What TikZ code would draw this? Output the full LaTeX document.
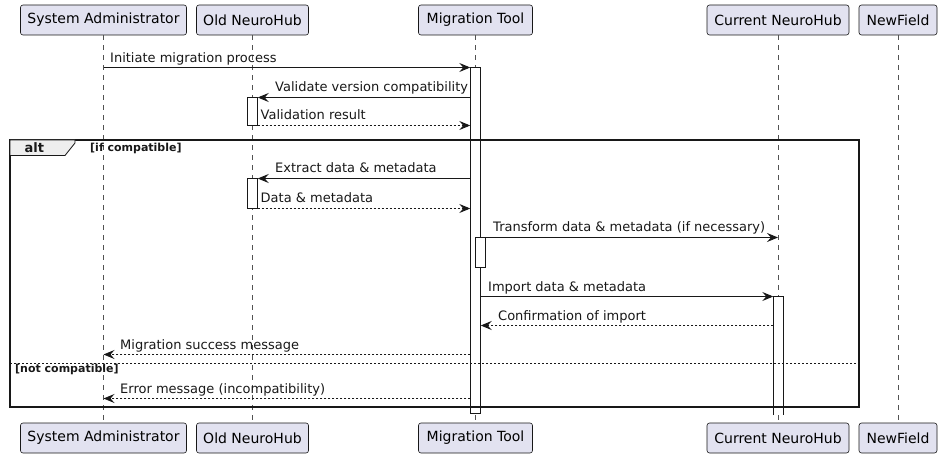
\documentclass[tikz,border=0pt]{standalone}
\usepackage{fontspec}
\setmainfont{DejaVu Sans}
\usetikzlibrary{arrows.meta}
\definecolor{partfill}{HTML}{E2E2F0}
\definecolor{ink}{HTML}{181818}
\definecolor{tabfill}{HTML}{EEEEEE}
\tikzset{
  part/.style={draw=ink, fill=partfill, line width=0.6pt, rounded corners=2.5pt,
    minimum height=30pt, inner sep=0pt, font=\fontsize{14}{16}\selectfont},
  life/.style={draw=ink!75, line width=0.5pt, dash pattern=on 5pt off 5pt},
  actbox/.style={draw=ink, fill=white, line width=0.8pt},
  msg/.style={draw=ink, line width=0.9pt, -{Stealth[length=11pt,width=9pt,inset=4pt]}},
  ret/.style={msg, dash pattern=on 2pt off 2pt},
  lbl/.style={anchor=base west, inner sep=0pt, font=\fontsize{13}{15}\selectfont, text=ink},
  guard/.style={anchor=base west, inner sep=0pt, font=\bfseries\fontsize{11}{13}\selectfont, text=ink},
}
\begin{document}
\begin{tikzpicture}[x=1pt,y=-1pt]
\useasboundingbox (0,0) rectangle (942,457);
% participants (top)
\node[part, minimum width=166pt] (saT) at (103.5,20) {System Administrator};
\node[part, minimum width=112pt] (ohT) at (252.5,20) {Old NeuroHub};
\node[part, minimum width=114pt] (mtT) at (475.5,20) {Migration Tool};
\node[part, minimum width=142pt] (cnT) at (778,20) {Current NeuroHub};
\node[part, minimum width=78pt]  (nfT) at (898,20) {NewField};
% participants (bottom)
\node[part, minimum width=166pt] (saB) at (103.5,438) {System Administrator};
\node[part, minimum width=112pt] (ohB) at (252.5,438) {Old NeuroHub};
\node[part, minimum width=114pt] (mtB) at (475.5,438) {Migration Tool};
\node[part, minimum width=142pt] (cnB) at (778,438) {Current NeuroHub};
\node[part, minimum width=78pt]  (nfB) at (898,438) {NewField};
% lifelines
\draw[life] (saT.south) -- (saB.north);
\draw[life] (ohT.south) -- (ohB.north);
\draw[life] (mtT.south) -- (mtB.north);
\draw[life] (cnT.south) -- (cnB.north);
\draw[life] (nfT.south) -- (nfB.north);
% activations
\draw[actbox] (470.5,67.5) rectangle (480.5,413);
\node[inner sep=0pt, minimum width=10pt, minimum height=345.5pt] (mtAct) at (475.5,240.25) {};
\draw[actbox] (247.5,97.5) rectangle (257.5,125.5);
\node[inner sep=0pt, minimum width=10pt, minimum height=28pt] (ohAct1) at (252.5,111.5) {};
\draw[actbox] (247.5,178.5) rectangle (257.5,208.5);
\node[inner sep=0pt, minimum width=10pt, minimum height=30pt] (ohAct2) at (252.5,193.5) {};
\draw[actbox] (475.5,237.5) rectangle (485.5,267.5);
\node[inner sep=0pt, minimum width=10pt, minimum height=30pt] (mtAct2) at (480.5,252.5) {};
\fill[white] (773.5,296.5) rectangle (783.5,415);
\draw[ink, line width=0.8pt] (773.5,415) -- (773.5,296.5) -- (783.5,296.5) -- (783.5,415);
\node[inner sep=0pt, minimum width=10pt, minimum height=118.5pt] (cnAct) at (778.5,355.75) {};
% alt frame
\draw[ink, line width=1.5pt] (10,140) rectangle (859,407);
\draw[ink, line width=0.8pt, fill=tabfill] (10,140) -- (75,140) -- (75,143) -- (65,155.5) -- (10,155.5) -- cycle;
\node[anchor=base west, inner sep=0pt, font=\bfseries\fontsize{13}{15}\selectfont, text=ink] (altlbl) at (24.5,152.5) {alt};
\node[guard] (g1) at (90,152) {[if compatible]};
\draw[ink, line width=0.8pt, dash pattern=on 2pt off 2pt] (10,363.5) -- (859,363.5);
\node[guard] (g2) at (15,372.5) {[not compatible]};
% messages
\draw[msg] (saT.south |- 0,67.5) -- (mtAct.west |- 0,67.5);
\node[lbl] at (110,62.5) {Initiate migration process};
\draw[msg] (mtAct.west |- 0,97.5) -- (ohAct1.east |- 0,97.5);
\node[lbl] at (275,91.5) {Validate version compatibility};
\draw[ret] (ohAct1.east |- 0,125.5) -- (mtAct.west |- 0,125.5);
\node[lbl] at (260.5,120) {Validation result};
\draw[msg] (mtAct.west |- 0,178.5) -- (ohAct2.east |- 0,178.5);
\node[lbl] at (275,173) {Extract data \& metadata};
\draw[ret] (ohAct2.east |- 0,208.5) -- (mtAct.west |- 0,208.5);
\node[lbl] at (260.5,203) {Data \& metadata};
\draw[msg] (mtAct2.east |- 0,237.5) -- (cnT.south |- 0,237.5);
\node[lbl] at (493,232) {Transform data \& metadata (if necessary)};
\draw[msg] (mtAct.east |- 0,296.5) -- (cnAct.west |- 0,296.5);
\node[lbl] at (488,291) {Import data \& metadata};
\draw[ret] (cnAct.west |- 0,325.5) -- (mtAct.east |- 0,325.5);
\node[lbl] at (498,320) {Confirmation of import};
\draw[ret] (mtAct.west |- 0,354.5) -- (saT.south |- 0,354.5);
\node[lbl] at (120,349) {Migration success message};
\draw[ret] (mtAct.west |- 0,398.5) -- (saT.south |- 0,398.5);
\node[lbl] at (120,393) {Error message (incompatibility)};
\end{tikzpicture}
\end{document}
